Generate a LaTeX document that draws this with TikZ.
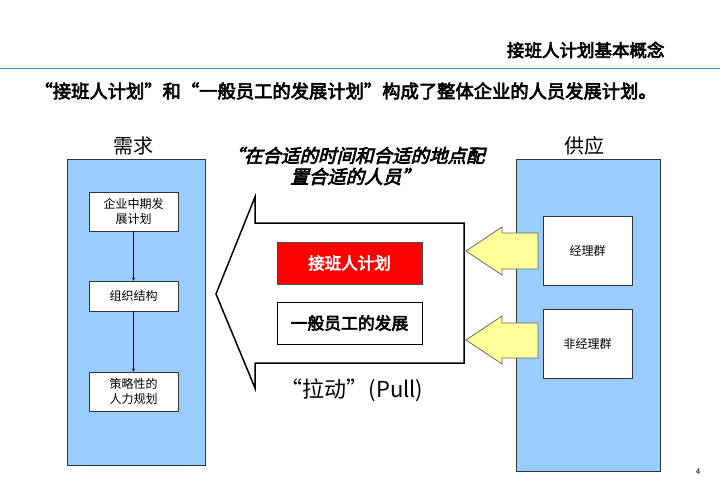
\documentclass[tikz,border=0pt]{standalone}
\usepackage{fontspec}
\setmainfont{Noto Sans CJK SC}
\newfontfamily\cjkb{Noto Sans CJK SC}[FakeBold=3.5]
\newfontfamily\cjkbi{Noto Sans CJK SC}[FakeBold=3.5,FakeSlant=0.25]
\begin{document}
\begin{tikzpicture}[x=1pt,y=-1pt,
  blue/.style={draw=black!80,fill={rgb,255:red,153;green,204;blue,255},line width=0.8pt},
  wbox/.style={draw=black!80,fill=white,line width=0.8pt,align=center,font=\fontsize{12}{15}\selectfont},
  yarrow/.style={draw=black!60,fill={rgb,255:red,255;green,255;blue,153},line width=0.8pt},
  lbl/.style={font=\fontsize{20}{22}\selectfont}]
\useasboundingbox (0,0) rectangle (720,498);
\node[anchor=east,font=\cjkb\fontsize{17.5}{18}\selectfont] (title) at (668,50) {接班人计划基本概念};
\draw[draw={rgb,255:red,70;green,130;blue,170},line width=1pt] (0,68) coordinate (l1) -- (720,68) coordinate (l2);
\node[anchor=west,font=\cjkb\fontsize{18.3}{20}\selectfont] (sub) at (31,91) {“接班人计划”和“一般员工的发展计划”构成了整体企业的人员发展计划。};
\node[lbl] (xq) at (133,146) {需求};
\node[lbl] (gy) at (584,146) {供应};
\draw[blue] (67,159) rectangle (205,465);
\draw[blue] (516,159) rectangle (660,471);
\node[wbox,minimum width=89pt,minimum height=39pt] (b1) at (133.5,211.5) {企业中期发\\展计划};
\node[wbox,minimum width=89pt,minimum height=30pt] (b2) at (133.5,296) {组织结构};
\node[wbox,minimum width=89pt,minimum height=39pt] (b3) at (133.5,391.5) {策略性的\\人力规划};
\draw[->,>=stealth] (b1) -- (b2);
\draw[->,>=stealth] (b2) -- (b3);
\draw[line width=1.5pt,fill=white] (216,294) -- (255,197) -- (255,223) -- (464,223) -- (464,363) -- (255,363) -- (255,388) -- cycle;
\node[draw=black!70,fill=red,minimum width=145pt,minimum height=42pt,font=\cjkb\fontsize{16.5}{18}\selectfont,text=white] (r) at (349.5,263) {接班人计划};
\node[draw=black,line width=0.8pt,fill=white,minimum width=145pt,minimum height=42pt,font=\cjkb\fontsize{16.8}{18}\selectfont] (g) at (349.5,323) {一般员工的发展};
\node[align=center,font=\cjkbi\fontsize{18.5}{21}\selectfont] (q) at (355,166) {“在合适的时间和合适的地点配\\置合适的人员”};
\node[font=\fontsize{22}{24}\selectfont] (pull) at (352,390) {“拉动”(Pull)};
\node[wbox,minimum width=89pt,minimum height=69pt] (m1) at (587.5,250.5) {经理群};
\node[wbox,minimum width=89pt,minimum height=69pt] (m2) at (587.5,343.5) {非经理群};
\draw[yarrow] (466,251) -- (502,227) -- (502,233) -- (538,233) -- (538,269) -- (502,269) -- (502,275) -- cycle;
\draw[yarrow] (466,340) -- (502,316) -- (502,323) -- (538,323) -- (538,358) -- (502,358) -- (502,364) -- cycle;
\node[font=\fontsize{8}{10}\selectfont] (pn) at (698,472) {4};
\end{tikzpicture}
\end{document}
